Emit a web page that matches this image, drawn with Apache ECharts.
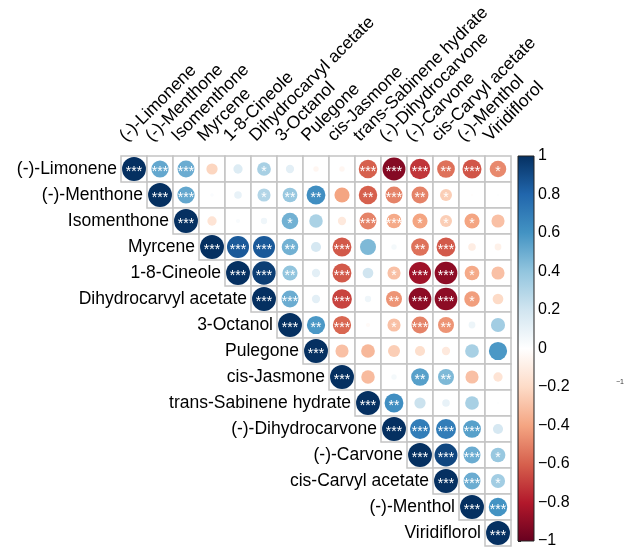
<!DOCTYPE html>
<html>
<head>
<meta charset="utf-8">
<script src="https://cdn.jsdelivr.net/npm/echarts@6/dist/echarts.min.js"></script>
<style>
  html, body { margin: 0; padding: 0; background: #fff; }
  #chart { width: 628px; height: 549px; }
</style>
</head>
<body>
<div id="chart"></div>
<script>
// Compounds, in plotting order (rows top-to-bottom, columns left-to-right)
const compounds = [
  '(-)-Limonene', '(-)-Menthone', 'Isomenthone', 'Myrcene', '1-8-Cineole',
  'Dihydrocarvyl acetate', '3-Octanol', 'Pulegone', 'cis-Jasmone',
  'trans-Sabinene hydrate', '(-)-Dihydrocarvone', '(-)-Carvone',
  'cis-Carvyl acetate', '(-)-Menthol', 'Viridiflorol'
];

// Upper triangle of the correlation matrix: each row starts at the diagonal
const corrUpper = [
  [1, 0.52, 0.50, -0.22, 0.15, 0.33, 0.12, -0.05, -0.05, -0.60, -0.92, -0.72, -0.55, -0.63, -0.48],
  [1, 0.52, 0.02, 0.10, 0.30, 0.38, 0.62, -0.40, -0.60, -0.50, -0.50, -0.25, -0.01, 0.01],
  [1, -0.15, 0.03, 0.07, 0.48, 0.32, -0.12, -0.50, -0.38, -0.40, -0.25, -0.40, -0.30],
  [1, 0.85, 0.85, 0.48, 0.18, -0.62, 0.45, 0.05, -0.55, -0.62, -0.10, -0.08],
  [1, 0.95, 0.40, 0.12, -0.62, 0.20, -0.30, -0.85, -0.90, -0.38, -0.30],
  [1, 0.50, 0.12, -0.68, 0.07, -0.45, -0.90, -0.90, -0.42, -0.20],
  [1, 0.58, -0.58, -0.03, -0.30, -0.50, -0.45, 0.08, 0.35],
  [1, -0.30, -0.33, -0.25, -0.18, -0.12, 0.33, 0.58],
  [1, -0.32, 0.05, 0.55, 0.45, -0.30, -0.15],
  [1, 0.62, 0.22, 0.10, 0.33, 0.01],
  [1, 0.70, 0.70, 0.55, 0.18],
  [1, 0.92, 0.50, 0.38],
  [1, 0.50, 0.35],
  [1, 0.60],
  [1]
];

// Significance marks for the same cells
const sigUpper = [
  ['***', '***', '***', '', '', '*', '', '', '', '***', '***', '***', '**', '***', '*'],
  ['***', '***', '', '', '*', '**', '**', '', '**', '***', '**', '*', '', ''],
  ['***', '', '', '', '*', '', '', '***', '***', '*', '*', '*', ''],
  ['***', '***', '***', '**', '', '***', '', '', '**', '***', '', ''],
  ['***', '***', '**', '', '***', '', '*', '***', '***', '*', ''],
  ['***', '***', '', '***', '', '**', '***', '***', '*', ''],
  ['***', '**', '***', '', '*', '***', '**', '', ''],
  ['***', '', '', '', '', '', '', ''],
  ['***', '', '', '**', '**', '', ''],
  ['***', '**', '', '', '', ''],
  ['***', '***', '***', '***', ''],
  ['***', '***', '***', '*'],
  ['***', '***', '*'],
  ['***', '***'],
  ['***']
];

// Colour-bar ticks
const barMin = -1, barMax = 1, barStep = 0.2;

// Diverging red-white-blue palette, from -1 to 1
const rdbu = ['#67001F', '#B2182B', '#D6604D', '#F4A582', '#FDDBC7', '#FFFFFF',
              '#D1E5F0', '#92C5DE', '#4393C3', '#2166AC', '#053061'];

const FONT = "'Liberation Sans', Arial, Helvetica, sans-serif";

const cells = [];
const marks = [];
corrUpper.forEach((rowVals, i) => {
  rowVals.forEach((v, k) => {
    const j = i + k;
    cells.push([j, i, v]);
    marks.push(sigUpper[i][k]);
  });
});

function renderCell(params, api) {
  const col = api.value(0), row = api.value(1), r = api.value(2);
  const c = api.coord([col, row]);
  const s = api.size([1, 1]);
  const w = s[0], h = s[1];
  const children = [
    { type: 'rect', shape: { x: c[0] - w / 2, y: c[1] - h / 2, width: w, height: h },
      style: { fill: '#fff', stroke: '#c4c4c4', lineWidth: 1.5 } },
    { type: 'circle', shape: { cx: c[0], cy: c[1], r: 0.92 * Math.sqrt(Math.abs(r)) * w / 2 },
      style: { fill: api.visual('color') } }
  ];
  const m = marks[params.dataIndex];
  if (m) {
    children.push({ type: 'text', x: c[0], y: c[1] + 3,
      style: { text: m, fill: '#fff', font: '14px ' + FONT, align: 'center', verticalAlign: 'middle' } });
  }
  // row name, to the left of the diagonal cell
  if (col === row) {
    children.push({ type: 'text', x: c[0] - w / 2 - 4, y: c[1],
      style: { text: compounds[row], fill: '#000', font: '17.5px ' + FONT, align: 'right', verticalAlign: 'middle' } });
  }
  // column name, slanted above the first row
  if (row === 0) {
    children.push({ type: 'text', x: c[0] - 5, y: c[1] - h / 2 - 11, rotation: Math.PI / 4,
      style: { text: compounds[col], fill: '#000', font: '17.5px ' + FONT, align: 'left', verticalAlign: 'bottom' } });
  }
  return { type: 'group', children: children };
}

function renderBar(params, api) {
  const top = api.coord([0, barMax]);
  const bottom = api.coord([1, barMin]);
  const stops = rdbu.slice().reverse().map((col, k) => ({ offset: k / (rdbu.length - 1), color: col }));
  return {
    type: 'rect',
    shape: { x: top[0], y: top[1], width: bottom[0] - top[0], height: bottom[1] - top[1] },
    style: { fill: new echarts.graphic.LinearGradient(0, 0, 0, 1, stops), stroke: '#222', lineWidth: 1 }
  };
}

const chart = echarts.init(document.getElementById('chart'), null, { renderer: 'canvas' });
chart.setOption({
  backgroundColor: '#fff',
  animation: false,
  textStyle: { fontFamily: FONT },
  grid: [
    { left: 121, top: 156, width: 390, height: 390 },
    { left: 518, top: 156, width: 16, height: 390 }
  ],
  xAxis: [
    { type: 'category', data: compounds, gridIndex: 0, show: false },
    { type: 'value', gridIndex: 1, min: 0, max: 1, show: false }
  ],
  yAxis: [
    { type: 'category', data: compounds, inverse: true, gridIndex: 0, show: false },
    { type: 'value', gridIndex: 1, min: barMin, max: barMax, interval: barStep, position: 'right',
      axisLine: { show: false },
      axisTick: { show: true, length: 3, lineStyle: { color: '#222' } },
      splitLine: { show: false },
      axisLabel: { fontSize: 16, color: '#000', margin: 4, fontFamily: FONT,
        formatter: v => { const t = Math.round(v * 10) / 10; return t === 0 ? '0' : (t < 0 ? '\u2212' + Math.abs(t) : String(t)); } } }
  ],
  visualMap: {
    show: false, type: 'continuous', min: -1, max: 1, dimension: 2, seriesIndex: 0,
    inRange: { color: rdbu }
  },
  series: [
    { type: 'custom', xAxisIndex: 0, yAxisIndex: 0, data: cells, renderItem: renderCell, clip: false },
    { type: 'custom', xAxisIndex: 1, yAxisIndex: 1, data: [[0, 0]], renderItem: renderBar, clip: false, silent: true }
  ],
  graphic: [
    { type: 'text', left: 616, top: 379, style: { text: '\u22121', font: '7px ' + FONT, fill: '#333' } }
  ]
});
</script>
</body>
</html>
